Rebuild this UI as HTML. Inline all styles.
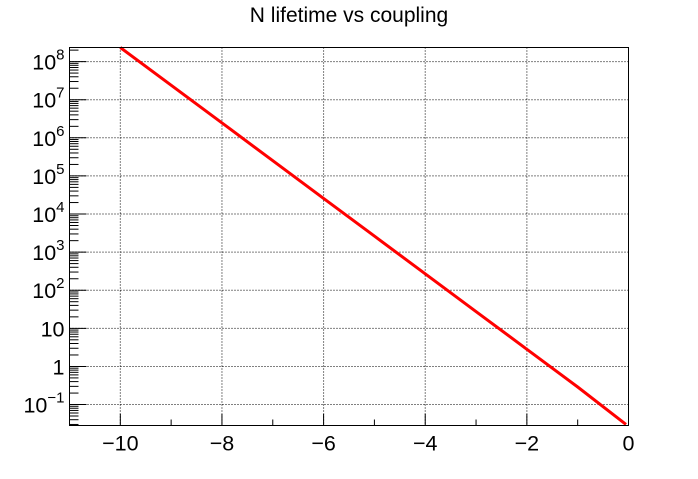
<!DOCTYPE html>
<html><head><meta charset="utf-8"><style>
body{margin:0;background:#fff;}
svg text{font-family:"Liberation Sans",sans-serif;fill:#000;}
</style></head><body>
<svg id="chart" width="698" height="474" xmlns="http://www.w3.org/2000/svg">
<rect width="698" height="474" fill="#fff"/>
<text x="349" y="22" font-size="21" text-anchor="middle">N lifetime vs coupling</text>
<g id="grid"></g><g id="axes"></g><g id="series"></g>
<rect x="69.5" y="47.5" width="559" height="378" fill="none" stroke="#000" stroke-width="1"/>
</svg>
<script>
const couplings=[-10,-9,-8,-7,-6,-5,-4,-3,-2,-1,-0.05];
const log10Lifetime=[8.37,7.38,6.39,5.40,4.41,3.42,2.43,1.44,0.45,-0.54,-1.52];
const xTicks=[-10,-8,-6,-4,-2,0];
const xTickLabels=["\u221210","\u22128","\u22126","\u22124","\u22122","0"];
const yDecades=[-1,0,1,2,3,4,5,6,7,8];
const yTickLabels=["10^-1","1","10","10^2","10^3","10^4","10^5","10^6","10^7","10^8"];
const L=69.5,R=628.5,T=47.5,B=425.5;
const xMin=-11,xMax=0,yMin=-1.55,yMax=8.37;
const sx=v=>L+(v-xMin)/(xMax-xMin)*(R-L);
const sy=v=>B-(v-yMin)/(yMax-yMin)*(B-T);
const NS="http://www.w3.org/2000/svg";
function mk(tag,attrs,parent){const e=document.createElementNS(NS,tag);for(const k in attrs)e.setAttribute(k,attrs[k]);parent.appendChild(e);return e;}
const grid=document.getElementById('grid'),axes=document.getElementById('axes'),series=document.getElementById('series');
xTicks.forEach((t,i)=>{
  const x=sx(t);
  if(t>xMin&&t<xMax){const g=mk('line',{x1:x,x2:x,y1:T,y2:B,stroke:'#000','stroke-dasharray':'1,2'},grid);
  
  }
  const tk=mk('line',{x1:x,x2:x,y1:B,y2:B-12,stroke:'#000'},axes);
  
  
  const lb=mk('text',{x:x,y:B+25,'font-size':'21.5','text-anchor':'middle'},axes);
  lb.textContent=xTickLabels[i];
  
  
});
for(let v=-11;v<=0;v++){if(v%2!==0){const x=sx(v);const m=mk('line',{x1:x,x2:x,y1:B,y2:B-6,stroke:'#000'},axes);
  
  }}
yDecades.forEach((d,i)=>{
  const y=sy(d);
  const g=mk('line',{x1:L,x2:R,y1:y,y2:y,stroke:'#000','stroke-dasharray':'1,2'},grid);
  
  
  const tk=mk('line',{x1:L,x2:L+17,y1:y,y2:y,stroke:'#000'},axes);
  
  
  const lb=mk('text',{x:L-5,y:y+8,'font-size':'21.5','text-anchor':'end'},axes);
  
  
  const s=yTickLabels[i];
  if(s.indexOf('^')>=0){const [b,e]=s.split('^');
    const t1=mk('tspan',{},lb);t1.textContent=b;
    const t2=mk('tspan',{dy:'-10','font-size':'15'},lb);t2.textContent=e.replace('-','\u2212');}
  else lb.textContent=s;
});
for(let d=-2;d<=8;d++){for(let k=2;k<=9;k++){const v=d+Math.log10(k);if(v<yMin||v>yMax)continue;const y=sy(v);
  const m=mk('line',{x1:L,x2:L+9,y1:y,y2:y,stroke:'#000'},axes);
  
  }}
const pts=couplings.map((c,i)=>sx(c).toFixed(1)+','+sy(log10Lifetime[i]).toFixed(1)).join(' ');
const pl=mk('polyline',{points:pts,fill:'none',stroke:'#ff0000','stroke-width':'3'},series);


</script>
</body></html>
